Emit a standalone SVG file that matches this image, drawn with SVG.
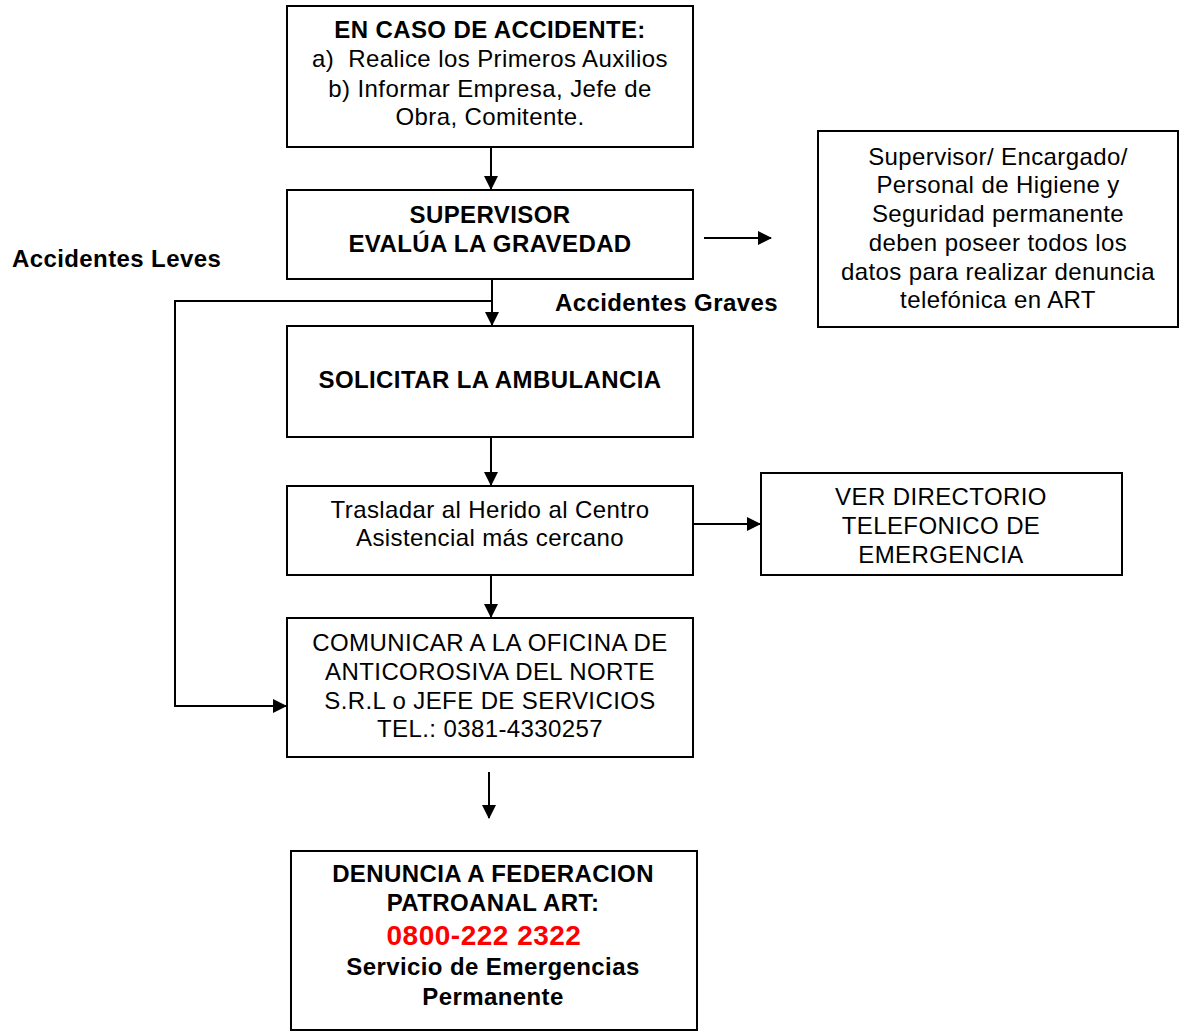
<svg xmlns="http://www.w3.org/2000/svg" width="1179" height="1032" viewBox="0 0 1179 1032">
<style>
.box{fill:#fff;stroke:#000;stroke-width:2}
.t{font-family:"Liberation Sans",Arial,sans-serif;font-size:24px;letter-spacing:0.4px;fill:#000;text-anchor:middle}
.b{font-weight:bold}
.c{stroke:#000;stroke-width:2;fill:none}
.red{fill:#ff0000;font-size:28px;letter-spacing:0.5px}
</style>
<defs>
<marker id="ah2" markerWidth="14" markerHeight="14" refX="13" refY="7" orient="auto" markerUnits="userSpaceOnUse" viewBox="0 0 14 14">
<path d="M0,0 L14,7 L0,14 z" fill="#000"/>
</marker>
</defs>
<rect width="1179" height="1032" fill="#fff"/>
<g id="connectors">
<path class="c" d="M491,147 V189" marker-end="url(#ah2)"/>
<path class="c" d="M492,279 V325" marker-end="url(#ah2)"/>
<path class="c" d="M492,301 H175 V706 H286" marker-end="url(#ah2)"/>
<path class="c" d="M704,238 H771" marker-end="url(#ah2)"/>
<path class="c" d="M491,437 V485" marker-end="url(#ah2)"/>
<path class="c" d="M693,524 H760" marker-end="url(#ah2)"/>
<path class="c" d="M491,575 V617" marker-end="url(#ah2)"/>
<path class="c" d="M489,772 V818" marker-end="url(#ah2)"/>
</g>
<g id="n1">
<rect class="box" x="287" y="6" width="406" height="141"/>
<text class="t b" x="490" y="38">EN CASO DE ACCIDENTE:</text>
<text class="t" x="490" y="67" xml:space="preserve">a)  Realice los Primeros Auxilios</text>
<text class="t" x="490" y="97">b) Informar Empresa, Jefe de</text>
<text class="t" x="490" y="125">Obra, Comitente.</text>
</g>
<g id="n2">
<rect class="box" x="287" y="190" width="406" height="89"/>
<text class="t b" x="490" y="223">SUPERVISOR</text>
<text class="t b" x="490" y="252">EVALÚA LA GRAVEDAD</text>
</g>
<g id="n_info">
<rect class="box" x="818" y="131" width="360" height="196"/>
<text class="t" x="998" y="165">Supervisor/ Encargado/</text>
<text class="t" x="998" y="193">Personal de Higiene y</text>
<text class="t" x="998" y="222">Seguridad permanente</text>
<text class="t" x="998" y="251">deben poseer todos los</text>
<text class="t" x="998" y="280">datos para realizar denuncia</text>
<text class="t" x="998" y="308">telefónica en ART</text>
</g>
<g id="lbl_leves"><text class="t b" x="12" y="267" style="text-anchor:start">Accidentes Leves</text></g>
<g id="lbl_graves"><text class="t b" x="555" y="311" style="text-anchor:start">Accidentes Graves</text></g>
<g id="n3">
<rect class="box" x="287" y="326" width="406" height="111"/>
<text class="t b" x="490" y="388">SOLICITAR LA AMBULANCIA</text>
</g>
<g id="n4">
<rect class="box" x="287" y="486" width="406" height="89"/>
<text class="t" x="490" y="518">Trasladar al Herido al Centro</text>
<text class="t" x="490" y="546">Asistencial más cercano</text>
</g>
<g id="n_dir">
<rect class="box" x="761" y="473" width="361" height="102"/>
<text class="t" x="941" y="505">VER DIRECTORIO</text>
<text class="t" x="941" y="534">TELEFONICO DE</text>
<text class="t" x="941" y="563">EMERGENCIA</text>
</g>
<g id="n5">
<rect class="box" x="287" y="618" width="406" height="139"/>
<text class="t" x="490" y="651">COMUNICAR A LA OFICINA DE</text>
<text class="t" x="490" y="680">ANTICOROSIVA DEL NORTE</text>
<text class="t" x="490" y="709">S.R.L o JEFE DE SERVICIOS</text>
<text class="t" x="490" y="737">TEL.: 0381-4330257</text>
</g>
<g id="n6">
<rect class="box" x="291" y="851" width="406" height="179"/>
<text class="t b" x="493" y="882">DENUNCIA A FEDERACION</text>
<text class="t b" x="493" y="911">PATROANAL ART:</text>
<text class="t b red" x="484" y="945">0800-222 2322</text>
<text class="t b" x="493" y="975">Servicio de Emergencias</text>
<text class="t b" x="493" y="1005">Permanente</text>
</g>
</svg>
